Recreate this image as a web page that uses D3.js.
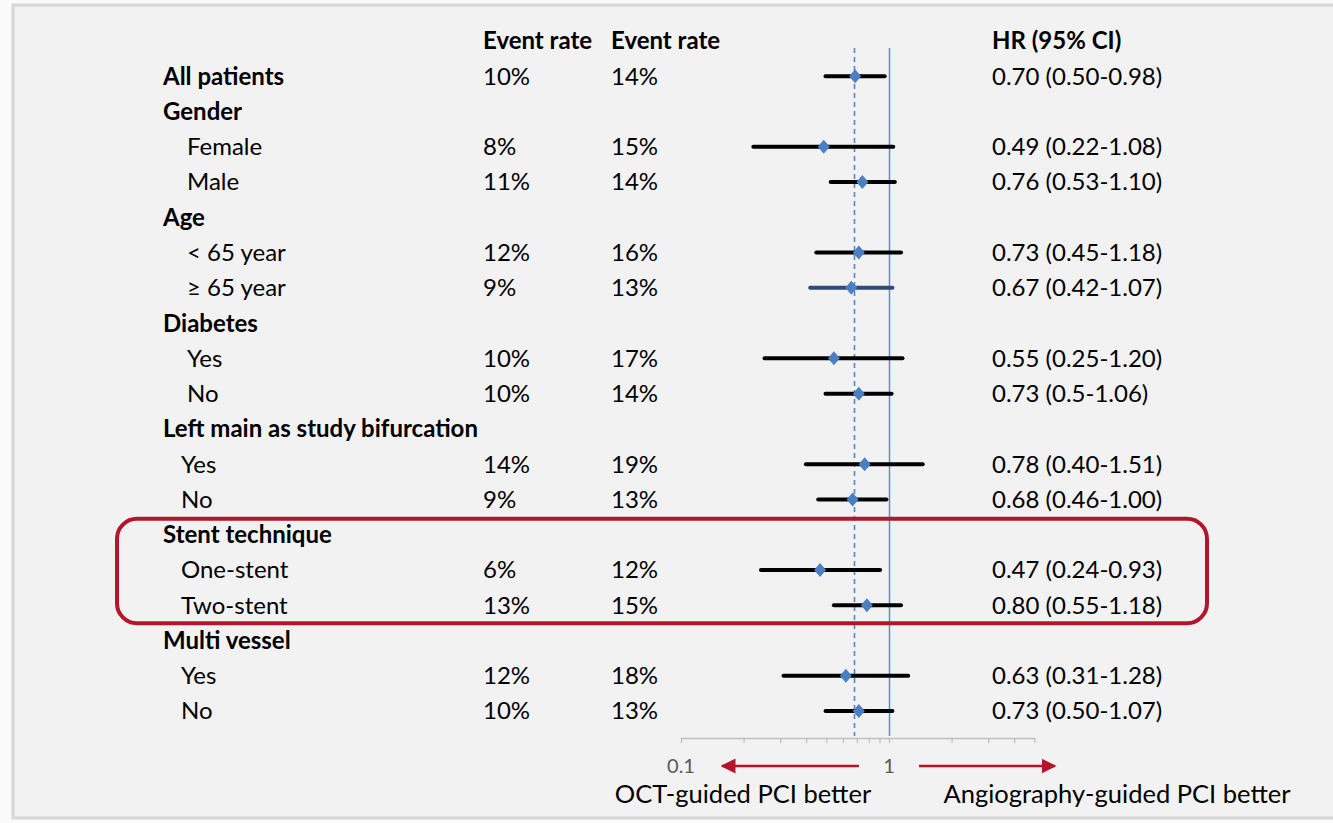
<!DOCTYPE html>
<html><head><meta charset="utf-8">
<script src="https://cdn.jsdelivr.net/npm/d3@7"></script>
<style>
html,body{margin:0;padding:0;background:#fafafa;}
svg{display:block;font-family:Lato, "Open Sans", sans-serif;}
</style></head>
<body><svg id="chart" width="1333" height="823"></svg>
<script>
// ---- data ----
const labels = ["All patients","Gender","Female","Male","Age","< 65 year","≥ 65 year","Diabetes","Yes","No",
  "Left main as study bifurcation","Yes","No","Stent technique","One-stent","Two-stent","Multi vessel","Yes","No"];
const isHeader = [true,true,false,false,true,false,false,true,false,false,true,false,false,true,false,false,true,false,false];
const indentLevel = [0,0,2,2,0,2,2,0,2,2,0,1,1,0,1,1,0,1,1];
const rateOCT = ["10%","","8%","11%","","12%","9%","","10%","10%","","14%","9%","","6%","13%","","12%","10%"];
const rateAngio = ["14%","","15%","14%","","16%","13%","","17%","14%","","19%","13%","","12%","15%","","18%","13%"];
const hr = [0.70,null,0.49,0.76,null,0.73,0.67,null,0.55,0.73,null,0.78,0.68,null,0.47,0.80,null,0.63,0.73];
const lo = [0.50,null,0.22,0.53,null,0.45,0.42,null,0.25,0.50,null,0.40,0.46,null,0.24,0.55,null,0.31,0.50];
const hi = [0.98,null,1.08,1.10,null,1.18,1.07,null,1.20,1.06,null,1.51,1.00,null,0.93,1.18,null,1.28,1.07];
const hrText = ["0.70 (0.50-0.98)","","0.49 (0.22-1.08)","0.76 (0.53-1.10)","","0.73 (0.45-1.18)","0.67 (0.42-1.07)","",
  "0.55 (0.25-1.20)","0.73 (0.5-1.06)","","0.78 (0.40-1.51)","0.68 (0.46-1.00)","","0.47 (0.24-0.93)","0.80 (0.55-1.18)","",
  "0.63 (0.31-1.28)","0.73 (0.50-1.07)"];
const headers = ["Event rate","Event rate","HR (95% CI)"];
const tickValues = [0.1,0.2,0.3,0.4,0.5,0.6,0.7,0.8,0.9,1,2,3,4,5];
const tickLabels = [0.1,1];
const overallHR = 0.70;
const highlightRows = [13,15];

const svg = d3.select("#chart");
// panel
svg.append("rect").attr("x",13).attr("y",5).attr("width",1340).attr("height",813)
  .attr("fill","#f2f2f2").attr("stroke","#d6d6d6").attr("stroke-width",3);

const x = d3.scaleLog().domain([0.1,5]).range([681,1034.4]);      // axis scale
const xm = x.copy().range([684,1028]);                             // mark scale (as placed in source)
const y = d3.scalePoint().domain(d3.range(-1,labels.length)).range([41,711]);

const fs = 24;
const colX = {label:163, r1:483, r2:611, hr:992};

// headers
svg.selectAll("text.hdr").data(headers).join("text")
  .attr("x",(d,i)=>[colX.r1,colX.r2,colX.hr][i]).attr("y",y(-1)).attr("dy","0.35em")
  .attr("font-size",fs).attr("font-weight","bold").attr("fill","#000").text(d=>d);

const rows = labels.map((l,i)=>({i,l}));
svg.selectAll("text.lab").data(rows).join("text")
  .attr("x",d=>colX.label + [0,18,24][indentLevel[d.i]]).attr("y",d=>y(d.i)).attr("dy","0.35em")
  .attr("font-size",fs).attr("font-weight",d=>isHeader[d.i]?"bold":"normal").attr("fill","#000").text(d=>d.l);
svg.selectAll("text.r1").data(rows).join("text")
  .attr("x",colX.r1).attr("y",d=>y(d.i)).attr("dy","0.35em").attr("font-size",fs).text(d=>rateOCT[d.i]);
svg.selectAll("text.r2").data(rows).join("text")
  .attr("x",colX.r2).attr("y",d=>y(d.i)).attr("dy","0.35em").attr("font-size",fs).text(d=>rateAngio[d.i]);
svg.selectAll("text.hrt").data(rows).join("text")
  .attr("x",colX.hr).attr("y",d=>y(d.i)).attr("dy","0.35em").attr("font-size",fs).text(d=>hrText[d.i]);

// reference lines
svg.append("line").attr("x1",Math.round(x(1))+0.5).attr("x2",Math.round(x(1))+0.5).attr("y1",48).attr("y2",736)
  .attr("stroke","#5b8fd0").attr("stroke-width",1.5);
const dx = Math.round(xm(overallHR))-0.5;
svg.append("line").attr("x1",dx).attr("x2",dx).attr("y1",48).attr("y2",736)
  .attr("stroke","#4f86cc").attr("stroke-width",1.6).attr("stroke-dasharray","5,4");

// CI lines and diamonds
const pts = rows.filter(d=>hr[d.i]!==null);
svg.selectAll("line.ci").data(pts).join("line")
  .attr("x1",d=>xm(lo[d.i])).attr("x2",d=>xm(hi[d.i])).attr("y1",d=>y(d.i)).attr("y2",d=>y(d.i))
  .attr("stroke",d=>d.i===6?"#2f4b7c":"#000").attr("stroke-width",4).attr("stroke-linecap","round");
svg.selectAll("path.dm").data(pts).join("path")
  .attr("d","M0,-7L6,0L0,7L-6,0Z").attr("transform",d=>`translate(${xm(hr[d.i])},${y(d.i)})`)
  .attr("fill","#4a7fc1");

// axis
const ax = svg.append("g").attr("transform","translate(0,738)")
  .call(d3.axisBottom(x).tickValues(tickValues).tickFormat("").tickSize(5).tickSizeOuter(0));
ax.select(".domain").attr("stroke","#bfbfbf").attr("stroke-width",1.3);
ax.selectAll(".tick line").attr("stroke","#bfbfbf").attr("stroke-width",1.3);
svg.selectAll("text.tl").data(tickLabels).join("text")
  .attr("x",d=>x(d)).attr("y",766).attr("dy","0.35em").attr("text-anchor","middle")
  .attr("font-size",20).attr("fill","#595959").text(d=>d);

// arrows
const red = "#b5152b";
const defs = svg.append("defs");
defs.append("marker").attr("id","ah").attr("viewBox","0 0 10 10").attr("refX",9).attr("refY",5)
  .attr("markerWidth",6).attr("markerHeight",6).attr("orient","auto-start-reverse")
  .append("path").attr("d","M0,0L10,5L0,10Z").attr("fill",red);
svg.append("line").attr("x1",859).attr("x2",722).attr("y1",766).attr("y2",766)
  .attr("stroke",red).attr("stroke-width",2.5).attr("marker-end","url(#ah)");
svg.append("line").attr("x1",919).attr("x2",1055).attr("y1",766).attr("y2",766)
  .attr("stroke",red).attr("stroke-width",2.5).attr("marker-end","url(#ah)");
svg.append("text").attr("x",743).attr("y",794).attr("dy","0.35em").attr("text-anchor","middle")
  .attr("font-size",25.5).text("OCT-guided PCI better");
svg.append("text").attr("x",1117).attr("y",794).attr("dy","0.35em").attr("text-anchor","middle")
  .attr("font-size",25.5).text("Angiography-guided PCI better");

// highlight box
const yb0 = y(highlightRows[0]) - 16, yb1 = y(highlightRows[1]) + 18;
svg.append("rect").attr("x",117).attr("y",yb0).attr("width",1090).attr("height",yb1-yb0)
  .attr("rx",20).attr("ry",20).attr("fill","none").attr("stroke",red).attr("stroke-width",4);
</script></body></html>
